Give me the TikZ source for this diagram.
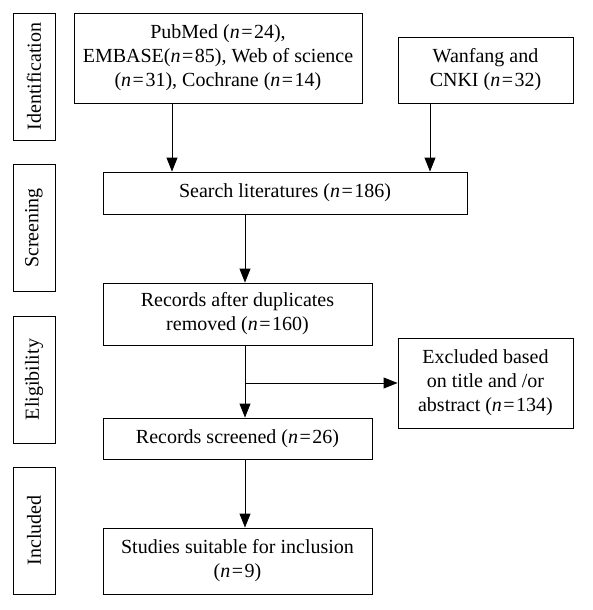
\documentclass[tikz,border=0pt]{standalone}
\usepackage{fontspec}
\setmainfont{Liberation Serif}
\usetikzlibrary{arrows.meta}
\newcommand{\nn}{\textit{n}\kern1.5pt=\kern1.5pt}
\begin{document}
\begin{tikzpicture}[x=1pt,y=-1pt,
  every node/.style={font=\fontsize{20}{24}\selectfont},
  box/.style={draw, line width=0.9pt, align=center, inner sep=0pt},
  stage/.style={draw, line width=0.9pt, inner sep=0pt, minimum width=42pt, minimum height=127pt},
  stagetext/.style={rotate=90, inner sep=0pt},
  arr/.style={line width=0.9pt, -{Triangle[length=14pt,width=11pt]}}]
\useasboundingbox (0,0) rectangle (593,610);

% stage labels
\node[stage] (s1) at (34,76.5) {};
\node[stagetext] (t1) at (s1.center) {Identification};
\node[stage] (s2) at (34,228) {};
\node[stagetext] (t2) at (s2.center) {Screening};
\node[stage] (s3) at (34,379.5) {};
\node[stagetext] (t3) at (s3.center) {Eligibility};
\node[stage] (s4) at (34,530.5) {};
\node[stagetext] (t4) at (s4.center) {Included};

% boxes
\node[box, minimum width=288pt, minimum height=90pt] (db) at (218,58)
  {PubMed (\nn24),\\EMBASE(\nn85), Web of science\\(\nn31), Cochrane (\nn14)};
\node[box, minimum width=175pt, minimum height=66pt] (cn) at (485.5,70)
  {Wanfang and\\CNKI (\nn32)};
\node[box, minimum width=364pt, minimum height=42pt] (search) at (285,193)
  {Search literatures (\nn186)};
\node[box, minimum width=269pt, minimum height=62pt] (dup) at (237.5,314)
  {Records after duplicates\\removed (\nn160)};
\node[box, minimum width=175pt, minimum height=90pt] (excl) at (485.5,383)
  {Excluded based\\on title and /or\\abstract (\nn134)};
\node[box, minimum width=269pt, minimum height=41pt] (scr) at (237.5,438.5)
  {Records screened (\nn26)};
\node[box, minimum width=269pt, minimum height=66pt] (inc) at (237.5,561)
  {Studies suitable for inclusion\\(\nn9)};

% connectors
\coordinate (axL) at (172,0);
\coordinate (axR) at (430,0);
\coordinate (axM) at (245,0);
\coordinate (br) at (245,383);
\draw[arr] (db.south -| axL) -- (search.north -| axL);
\draw[arr] (cn.south -| axR) -- (search.north -| axR);
\draw[arr] (search.south -| axM) -- (dup.north -| axM);
\draw[arr] (dup.south -| axM) -- (scr.north -| axM);
\draw[arr] (br) -- (excl.west);
\draw[arr] (scr.south -| axM) -- (inc.north -| axM);
\end{tikzpicture}
\end{document}
